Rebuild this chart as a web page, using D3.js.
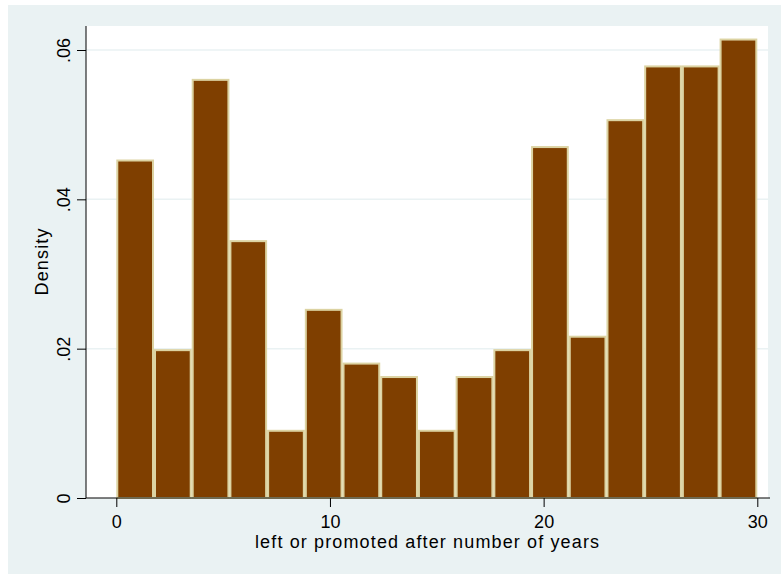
<!DOCTYPE html>
<html>
<head>
<meta charset="utf-8">
<script src="https://cdn.jsdelivr.net/npm/d3@7"></script>
<style>
  html, body { margin: 0; padding: 0; background: #fff; }
  svg { display: block; font-family: "Liberation Sans", Arial, sans-serif; }
</style>
</head>
<body>
<div id="chart"></div>
<script>
// histogram: 17 bins over 0..30
const binCount = 17;
const xMin = 0;
const xMax = 30;
const densities = [0.0452, 0.0198, 0.0560, 0.0344, 0.0090, 0.0252, 0.0180, 0.0162, 0.0090,
  0.0162, 0.0198, 0.0470, 0.0216, 0.0506, 0.0578, 0.0578, 0.0614];
const xTicks = [0, 10, 20, 30];
const yTicks = [0, 0.02, 0.04, 0.06];
const yTickLabels = ["0", ".02", ".04", ".06"];
const xTitle = "left or promoted after number of years";
const yTitle = "Density";

const width = 781;
const height = 576;

const svg = d3.select("#chart")
  .append("svg")
  .attr("width", width)
  .attr("height", height);

// outer background and plot region
svg.append("rect")
  .attr("x", 8).attr("y", 5)
  .attr("width", width - 8).attr("height", 569)
  .attr("fill", "#eaf2f3");

const plot = { left: 86, right: 768, top: 26, bottom: 498 };

svg.append("rect")
  .attr("x", plot.left).attr("y", plot.top)
  .attr("width", plot.right - plot.left)
  .attr("height", plot.bottom - plot.top)
  .attr("fill", "#fff");

const x = d3.scaleLinear().domain([0, 30]).range([116.3, 757.3]);
const y = d3.scaleLinear().domain([0, 0.06]).range([498, 50]);

// grid
svg.selectAll(".grid")
  .data(yTicks.filter(d => d > 0))
  .enter()
  .append("line")
  .attr("x1", plot.left).attr("x2", plot.right)
  .attr("y1", d => y(d)).attr("y2", d => y(d))
  .attr("stroke", "#eaf2f3")
  .attr("stroke-width", 1.5);

// bars
const binWidth = (xMax - xMin) / binCount;
const bins = densities.map((d, i) => ({ x0: xMin + i * binWidth, x1: xMin + (i + 1) * binWidth, value: d }));

svg.selectAll(".bar")
  .data(bins)
  .enter()
  .append("rect")
  .attr("class", "bar")
  .attr("x", d => x(d.x0) + 1)
  .attr("y", d => y(d.value))
  .attr("width", d => x(d.x1) - x(d.x0) - 2)
  .attr("height", d => y(0) - y(d.value))
  .attr("fill", "#7f3f00")
  .attr("stroke", "#dcd3a2")
  .attr("stroke-width", 2);

// axes
const yAxis = svg.append("g")
  .attr("transform", `translate(${plot.left},0)`)
  .call(d3.axisLeft(y).tickValues(yTicks).tickSize(9).tickSizeOuter(0).tickFormat((d, i) => yTickLabels[i]));

yAxis.select(".domain")
  .attr("d", `M0,${plot.top}V${plot.bottom}`)
  .attr("stroke", "#000");

yAxis.selectAll(".tick text")
  .attr("font-size", "18px")
  .attr("fill", "#000")
  .attr("text-anchor", "middle")
  .attr("transform", "rotate(-90)")
  .attr("x", 0)
  .attr("dy", 0)
  .attr("y", -16);

yAxis.selectAll(".tick line").attr("stroke", "#000");

const xAxis = svg.append("g")
  .attr("transform", `translate(0,${plot.bottom})`)
  .call(d3.axisBottom(x).tickValues(xTicks).tickSize(9).tickSizeOuter(0).tickFormat(d3.format("d")));

xAxis.select(".domain")
  .attr("d", `M${plot.left},0H${plot.right + 2}`)
  .attr("stroke", "#000");

xAxis.selectAll(".tick line").attr("stroke", "#000");

xAxis.selectAll(".tick text")
  .attr("font-size", "18px")
  .attr("fill", "#000")
  .attr("dy", 0)
  .attr("y", 30);

// titles (Stata spaces its letters a little wider)
svg.append("text")
  .attr("x", (plot.left + plot.right) / 2)
  .attr("y", 548)
  .attr("text-anchor", "middle")
  .attr("font-size", "18px")
  .attr("fill", "#000")
  .attr("textLength", 344)
  .attr("lengthAdjust", "spacing")
  .text(xTitle);

svg.append("text")
  .attr("transform", `translate(48,262) rotate(-90)`)
  .attr("text-anchor", "middle")
  .attr("font-size", "18px")
  .attr("fill", "#000")
  .attr("textLength", 67)
  .attr("lengthAdjust", "spacing")
  .text(yTitle);
</script>
</body>
</html>
